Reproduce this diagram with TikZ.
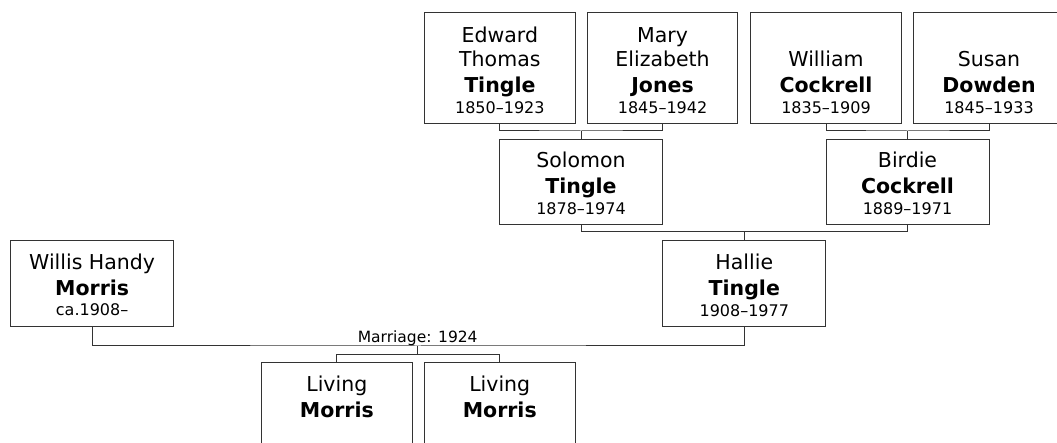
\documentclass[tikz,border=0pt]{standalone}
\usepackage{fontspec}
\setmainfont{DejaVu Sans}
\begin{document}
\begin{tikzpicture}[x=1pt,y=1pt,
  box/.style={draw=black!80, line width=1pt, inner sep=0pt, anchor=north west},
  link/.style={draw=black!80, line width=1pt},
  nm/.style={font=\fontsize{20.5}{24}\selectfont, anchor=base, inner sep=0pt},
  sn/.style={font=\bfseries\fontsize{20.5}{24}\selectfont, anchor=base, inner sep=0pt},
  dt/.style={font=\fontsize{16}{19}\selectfont, anchor=base, inner sep=0pt},
  lbl/.style={font=\fontsize{15.5}{18}\selectfont, anchor=base, inner sep=0pt}]
\useasboundingbox (0,0) rectangle (1057,-443);
\clip (0,0) rectangle (1057,-443);

% boxes
\node[box, minimum width=150.7, minimum height=111.3] (edward) at (424,-12) {};
\node[box, minimum width=150.7, minimum height=111.3] (mary) at (586.7,-12) {};
\node[box, minimum width=151, minimum height=111.3] (william) at (750,-12) {};
\node[box, minimum width=151, minimum height=111.3] (susan) at (913,-12) {};
\node[box, minimum width=163, minimum height=85.5] (solomon) at (499,-138.7) {};
\node[box, minimum width=163, minimum height=85.5] (birdie) at (825.5,-138.7) {};
\node[box, minimum width=163.3, minimum height=86] (willis) at (10,-240) {};
\node[box, minimum width=163, minimum height=86] (hallie) at (662.3,-240) {};
\node[box, minimum width=150.7, minimum height=86] (living1) at (261,-362) {};
\node[box, minimum width=150.5, minimum height=86] (living2) at (424,-362) {};

% texts
\node[nm] (edward-a) at ([yshift=82pt]edward.south) {Edward};
\node[nm] (edward-b) at ([yshift=57.5pt]edward.south) {Thomas};
\node[sn] (edward-s) at ([yshift=31.5pt]edward.south) {Tingle};
\node[dt] (edward-d) at ([yshift=10.8pt]edward.south) {1850--1923};

\node[nm] (mary-a) at ([yshift=82pt]mary.south) {Mary};
\node[nm] (mary-b) at ([yshift=57.5pt]mary.south) {Elizabeth};
\node[sn] (mary-s) at ([yshift=31.5pt]mary.south) {Jones};
\node[dt] (mary-d) at ([yshift=10.8pt]mary.south) {1845--1942};

\node[nm] (william-b) at ([yshift=57.5pt]william.south) {William};
\node[sn] (william-s) at ([yshift=31.5pt]william.south) {Cockrell};
\node[dt] (william-d) at ([yshift=10.8pt]william.south) {1835--1909};

\node[nm] (susan-b) at ([yshift=57.5pt]susan.south) {Susan};
\node[sn] (susan-s) at ([yshift=31.5pt]susan.south) {Dowden};
\node[dt] (susan-d) at ([yshift=10.8pt]susan.south) {1845--1933};

\node[nm] (solomon-b) at ([yshift=57.5pt]solomon.south) {Solomon};
\node[sn] (solomon-s) at ([yshift=31.5pt]solomon.south) {Tingle};
\node[dt] (solomon-d) at ([yshift=10.8pt]solomon.south) {1878--1974};

\node[nm] (birdie-b) at ([yshift=57.5pt]birdie.south) {Birdie};
\node[sn] (birdie-s) at ([yshift=31.5pt]birdie.south) {Cockrell};
\node[dt] (birdie-d) at ([yshift=10.8pt]birdie.south) {1889--1971};

\node[nm] (willis-b) at ([yshift=57.5pt]willis.south) {Willis Handy};
\node[sn] (willis-s) at ([yshift=31.5pt]willis.south) {Morris};
\node[dt] (willis-d) at ([yshift=11.5pt]willis.south) {ca.1908--};

\node[nm] (hallie-b) at ([yshift=57.5pt]hallie.south) {Hallie};
\node[sn] (hallie-s) at ([yshift=31.5pt]hallie.south) {Tingle};
\node[dt] (hallie-d) at ([yshift=10.8pt]hallie.south) {1908--1977};

\node[nm] (living1-b) at ([yshift=57.5pt]living1.south) {Living};
\node[sn] (living1-s) at ([yshift=31.5pt]living1.south) {Morris};
\node[nm] (living2-b) at ([yshift=57.5pt]living2.south) {Living};
\node[sn] (living2-s) at ([yshift=31.5pt]living2.south) {Morris};

% connectors
\coordinate (j1) at (solomon.north |- 0,-131);
\draw[link] (edward.south) |- (j1) -| (mary.south);
\draw[link] (j1) -- (solomon.north);

\coordinate (j2) at (birdie.north |- 0,-131);
\draw[link] (william.south) |- (j2) -| (susan.south);
\draw[link] (j2) -- (birdie.north);

\coordinate (j3) at (hallie.north |- 0,-231.5);
\draw[link] (solomon.south) |- (j3) -| (birdie.south);
\draw[link] (j3) -- (hallie.north);

\coordinate (m) at (417.7,-346);
\draw[link] (willis.south) |- (m) -| (hallie.south);
\node[lbl] (marr) at (417.7,-342.5) {Marriage: 1924};
\coordinate (k) at (417.7,-354.7);
\draw[link] (m) -- (k);
\draw[link] (living1.north) |- (k) -| (living2.north);
\end{tikzpicture}
\end{document}
